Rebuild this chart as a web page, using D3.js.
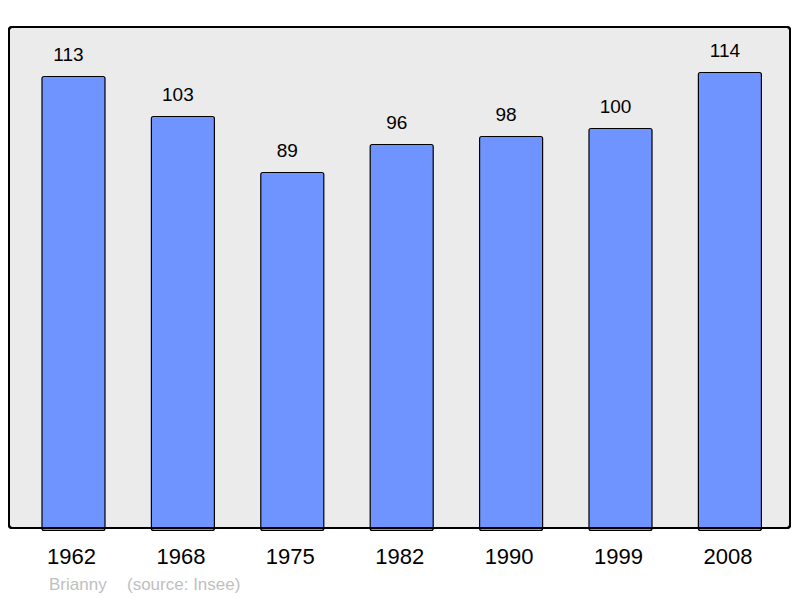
<!DOCTYPE html>
<html><head><meta charset="utf-8">
<script src="https://cdn.jsdelivr.net/npm/d3@7"></script>
<style>body{margin:0;background:#fff}svg{display:block}</style>
</head><body>
<script>
const years = ["1962","1968","1975","1982","1990","1999","2008"];
const population = [113,103,89,96,98,100,114];
const commune = "Brianny";
const source = "(source: Insee)";

const W = 800, H = 598;
const svg = d3.select("body").append("svg").attr("width", W).attr("height", H);
const font = "'Liberation Sans', Arial, sans-serif";

svg.append("rect").attr("x", 9).attr("y", 27).attr("width", 781).attr("height", 501)
  .attr("rx", 3).attr("fill", "#ebebeb").attr("stroke", "#000").attr("stroke-width", 2);

const x = d3.scaleBand().domain(years).range([18.8, 784.6]).paddingInner(0.424).paddingOuter(0.212);
const y = d3.scaleLinear().domain([0, 125]).range([528, 28]);

svg.selectAll("rect.bar").data(population).join("rect").attr("class", "bar")
  .attr("x", (d, i) => x(years[i])).attr("width", x.bandwidth())
  .attr("y", d => y(d) + 0.5).attr("height", d => y(0) - y(d) + 2)
  .attr("rx", 2).attr("fill", "#7094ff").attr("stroke", "#000").attr("stroke-width", 1.2);

svg.selectAll("text.val").data(population).join("text").attr("class", "val")
  .attr("x", (d, i) => x(years[i]) + x.bandwidth() / 2 - 5).attr("y", d => y(d) - 15)
  .attr("text-anchor", "middle").attr("font-family", font).attr("font-size", 19)
  .attr("fill", "#000").text(d => d);

svg.append("rect").attr("x", 9).attr("y", 27).attr("width", 781).attr("height", 501)
  .attr("rx", 3).attr("fill", "none").attr("stroke", "#000").attr("stroke-width", 2);

const axis = d3.axisBottom(x).tickSize(0).tickPadding(0);
const g = svg.append("g").attr("transform", "translate(-2,564)").call(axis);
g.select(".domain").remove();
g.selectAll("text").attr("dy", 0).attr("font-family", font).attr("font-size", 22).attr("fill", "#000");

svg.append("text").attr("x", 49).attr("y", 590).attr("font-family", font).attr("font-size", 17)
  .attr("fill", "#c0c0c0").text(commune);
svg.append("text").attr("x", 127).attr("y", 590).attr("font-family", font).attr("font-size", 17)
  .attr("fill", "#c0c0c0").text(source);
</script>
</body></html>
